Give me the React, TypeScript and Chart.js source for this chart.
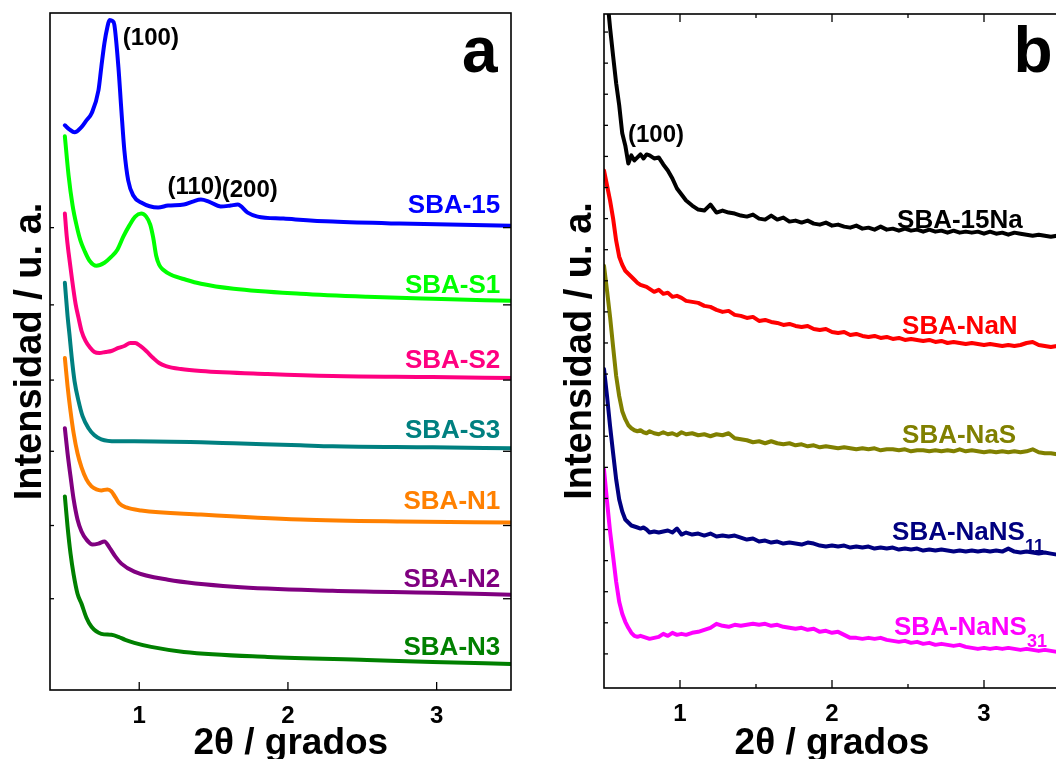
import { useEffect, useRef } from "react";
import { Chart, registerables } from "chart.js";

Chart.register(...registerables);

const FONT = "'Liberation Sans', Arial, Helvetica, sans-serif";

// ---------- Panel a: smoothed patterns, [2θ, intensity] ----------
type Pair = [number, number];

const SBA_15: Pair[] = [
  [0.5, 112.6], [0.53, 111.8], [0.565, 111.2], [0.61, 112.2], [0.645, 113.6], [0.68, 115],
  [0.726, 119.6], [0.745, 124.2], [0.766, 129], [0.786, 132.2], [0.8, 133.6], [0.82, 133.4],
  [0.833, 132.6], [0.86, 124.2], [0.88, 115.6], [0.9, 107.6], [0.926, 101.6], [0.96, 98.6],
  [1.013, 97.2], [1.127, 96.2], [1.194, 96.6], [1.3, 96.8], [1.36, 97.4], [1.415, 97.8],
  [1.468, 97.4], [1.548, 96.4], [1.615, 96.6], [1.662, 96.8], [1.729, 95.2], [1.796, 94.4],
  [1.97, 94], [2.3, 93.4], [2.75, 93], [3.5, 92.6],
];

const SBA_S1: Pair[] = [
  [0.5, 110.4], [0.525, 102.6], [0.552, 96.6], [0.579, 92.6], [0.605, 89.6], [0.632, 87.6],
  [0.666, 85.6], [0.712, 84.6], [0.766, 85.2], [0.813, 86.4], [0.853, 87.8], [0.893, 90.4],
  [0.933, 92.6], [0.973, 94.4], [1.013, 95], [1.047, 94.4], [1.074, 92.8], [1.094, 90.2],
  [1.114, 86.6], [1.134, 84.8], [1.161, 83.8], [1.214, 82.8], [1.314, 81.8], [1.415, 81],
  [1.635, 80], [2.084, 79], [2.532, 78.4], [2.973, 78], [3.5, 77.6],
];

const SBA_S2: Pair[] = [
  [0.5, 95], [0.512, 90.6], [0.525, 87.2], [0.545, 82.6], [0.572, 77], [0.592, 74.2],
  [0.612, 71.6], [0.639, 69.6], [0.666, 68.4], [0.699, 67.4], [0.732, 67.2], [0.773, 67.4],
  [0.813, 67.6], [0.86, 68.2], [0.9, 68.6], [0.94, 69.2], [0.973, 69.2], [1.007, 68.6],
  [1.047, 67.6], [1.094, 66.2], [1.134, 65.2], [1.18, 64.6], [1.28, 64], [1.415, 63.6],
  [1.863, 63], [2.3, 62.6], [2.973, 62.4], [3.5, 62.2],
];

const SBA_S3: Pair[] = [
  [0.5, 81.2], [0.518, 74.6], [0.532, 70.6], [0.545, 66.6], [0.565, 61.6], [0.592, 57.6],
  [0.619, 54.6], [0.659, 52.2], [0.699, 50.8], [0.745, 50], [0.846, 49.6], [0.967, 49.6],
  [1.415, 49.4], [1.635, 49.2], [2.084, 48.8], [2.3, 48.6], [2.973, 48.4], [3.5, 48.2],
];

const SBA_N1: Pair[] = [
  [0.5, 66.2], [0.518, 60.6], [0.538, 55.6], [0.559, 51.2], [0.585, 47.2], [0.612, 44.4],
  [0.645, 42], [0.679, 40.6], [0.712, 40], [0.745, 39.8], [0.786, 40], [0.813, 39.6],
  [0.84, 38.4], [0.866, 37.2], [0.913, 36.4], [1.013, 35.8], [1.415, 35], [2.084, 34],
  [2.753, 33.6], [3.5, 33.4],
];

const SBA_N2: Pair[] = [
  [0.5, 52.2], [0.518, 47.2], [0.538, 42.6], [0.559, 38], [0.585, 34], [0.612, 31.6],
  [0.645, 30], [0.686, 29], [0.726, 29.2], [0.766, 29.6], [0.8, 28.4], [0.84, 26.6],
  [0.88, 25.2], [0.967, 23.6], [1.194, 22], [1.635, 20.6], [2.3, 19.8], [2.973, 19.4],
  [3.5, 19],
];

const SBA_N3: Pair[] = [
  [0.5, 38.6], [0.518, 32.6], [0.538, 27.2], [0.559, 23], [0.585, 19.2], [0.612, 17.2],
  [0.645, 14.4], [0.679, 12.6], [0.745, 11.2], [0.813, 11], [0.86, 10.6], [0.906, 10],
  [0.967, 9.4], [1.08, 8.6], [1.3, 7.6], [1.863, 6.6], [2.532, 6], [2.973, 5.6], [3.5, 5.2],
];

// ---------- Panel b: raw scans on a common 2θ grid ----------
const TWO_THETA_B = [
  0.5, 0.52, 0.54, 0.56, 0.58, 0.6, 0.62, 0.64, 0.66, 0.68,
  0.7, 0.72, 0.74, 0.76, 0.78, 0.8,
  0.83, 0.86, 0.89, 0.92, 0.95, 0.98, 1.01,
  1.04, 1.08, 1.12, 1.16, 1.2, 1.24, 1.28, 1.32, 1.36, 1.4,
  1.44, 1.48, 1.52, 1.56, 1.6, 1.64, 1.68, 1.72, 1.76, 1.8,
  1.84, 1.88, 1.92, 1.96, 2.0, 2.04, 2.08, 2.12, 2.16, 2.2,
  2.24, 2.28, 2.32, 2.36, 2.4, 2.44, 2.48, 2.52, 2.56, 2.6,
  2.64, 2.68, 2.72, 2.76, 2.8, 2.84, 2.88, 2.92, 2.96, 3.0,
  3.04, 3.08, 3.12, 3.16, 3.2, 3.24, 3.28, 3.32, 3.36, 3.4,
  3.44, 3.48, 3.5,
];

const SBA_15NA = [
  146, 138, 131.6, 126, 120.6, 116.2, 110.6, 108.2, 104.6, 106.2,
  105.2, 105.8, 106.4, 105.6, 106.4, 106.2,
  105.6, 105.8, 104.4, 103.2, 101.6, 99.6, 98.4,
  97.2, 96.2, 95.4, 95.2, 96.4, 94.8, 95.2, 94.8, 94.6, 94.2,
  94, 94.4, 93.6, 93.4, 94.2, 93.4, 93.8, 93, 93.2, 92.8,
  93.2, 92.6, 92.4, 92.8, 92.2, 92.4, 92, 91.8, 92.2, 91.6,
  91.8, 91.4, 92, 91.4, 91.6, 91.2, 91.6, 91.2, 91.4, 91,
  91.4, 91, 91.2, 90.8, 91.2, 90.8, 91, 90.8, 91, 90.6,
  91, 90.6, 90.8, 90.4, 90.8, 90.6, 90.4, 90.2, 90.4, 90.2,
  90, 90.2, 89.8,
];

const SBA_NAN = [
  103.2, 100.2, 97.2, 93.6, 89.2, 86, 84.4, 83.2, 82.6, 82,
  81.4, 80.8, 80.4, 80.2, 80, 79.6,
  79, 79.4, 78.6, 78.8, 78, 78.2, 77.8,
  77.2, 77, 76.8, 76.2, 76, 75.4, 75, 75.2, 74.4, 74.2,
  73.8, 74, 73.2, 73.4, 73, 72.8, 72.4, 72.6, 72.2, 72,
  72.2, 71.6, 71.4, 71.6, 71, 70.8, 71, 70.4, 70.6, 70.2,
  70, 70.2, 69.8, 70, 69.6, 69.8, 69.4, 69.6, 69.4, 69.2,
  69.4, 69, 69.2, 68.8, 69, 68.8, 68.6, 68.8, 68.6, 68.4,
  68.6, 68.4, 68.2, 68.4, 68.2, 68.4, 68.8, 69, 68.4, 68.2,
  68, 68.2, 68,
];

const SBA_NAS = [
  84.2, 79.2, 74, 68, 62.2, 58.2, 55.2, 53.6, 52.4, 51.8,
  51.4, 51.2, 51.4, 51, 50.8, 51.2,
  50.8, 50.6, 51, 50.6, 50.8, 50.4, 51,
  50.6, 50.8, 50.4, 50.6, 50.2, 50.6, 50.4, 50.8, 49.8, 49.6,
  49.4, 49, 49.2, 48.8, 49.2, 48.8, 48.6, 48.8, 48.4, 48.6,
  48.2, 48.4, 48, 48.2, 48, 47.8, 48, 47.8, 47.6, 47.8,
  47.6, 47.8, 47.4, 47.6, 47.6, 47.4, 47.6, 47.2, 47.4, 47.4,
  47.2, 47.4, 47.2, 47.4, 47.2, 47.6, 47.2, 47.4, 47.2, 47,
  47.2, 47, 47.2, 47, 47.2, 47, 47.2, 47.6, 47, 46.8,
  46.8, 46.6, 46.6,
];

const SBA_NANS11 = [
  63.6, 58.2, 52.2, 46.8, 41.6, 37.6, 35.2, 33.6, 33, 32.4,
  32.2, 32, 31.8, 32, 31.6, 31,
  31.2, 31, 31.2, 31.4, 31, 31.8, 30.6,
  31, 30.6, 30.8, 30.4, 30.8, 30.2, 30.4, 30.2, 30.4, 30,
  29.6, 29.8, 29.2, 29.4, 29, 29.2, 28.8, 29, 28.8, 28.6,
  29, 28.8, 28.4, 28.2, 28.4, 28.2, 28.4, 28, 28.2, 28,
  28.2, 27.8, 28, 27.8, 28, 27.6, 27.8, 27.6, 27.8, 27.4,
  27.6, 27.4, 27.6, 27.4, 27.2, 27.4, 27.2, 27.4, 27.2, 27.4,
  27.2, 27.4, 27.2, 27.8, 27.2, 27, 27.2, 27, 26.8, 27,
  26.8, 26.6, 26.6,
];

const SBA_NANS31 = [
  43.6, 37.2, 31.2, 26.2, 21.2, 17.2, 14.8, 13.2, 12, 11,
  10.4, 10.2, 10.4, 10.2, 10, 9.8,
  10, 10.2, 10.8, 10.4, 11, 10.6, 10.8,
  10.6, 11, 11.2, 11.6, 12, 12.8, 12.4, 12.2, 12.6, 12.4,
  12.6, 12.8, 12.6, 12.8, 12.4, 12.6, 12.2, 12, 11.8, 12,
  11.6, 11.8, 11.2, 11.4, 11, 11.2, 10.6, 10, 10, 9.8,
  10, 9.8, 10, 9.6, 9.4, 9.2, 9.4, 9, 9.2, 8.8,
  9, 8.6, 8.8, 8.6, 8.4, 8.6, 8.2, 8, 7.8, 8,
  7.8, 8, 7.8, 8, 7.8, 7.6, 7.8, 7.6, 7.4, 7.6,
  7.4, 7.2, 7.2,
];

// ---------- Axis ticks ----------
const X_TICKS = [1, 2, 3];
const X_MINOR_B = [1.5, 2.5];
const Y_TICKS_A = [18.2, 32.8, 47.6, 61.8, 76.8, 92.2];
const Y_TICKS_B = [
  6.8, 13, 19.2, 25.4, 31.6, 37.8, 44, 50.2, 56.4, 62.6, 68.8,
  75, 81.2, 87.4, 93.6, 99.8, 106, 112.2, 118.4, 124.6, 130.8,
];

interface Note {
  text: string;
  sub?: string;
  x: number;
  y: number;
  color: string;
  size: number;
  align: CanvasTextAlign;
}

const NOTES_A: Note[] = [
  { text: "(100)", x: 0.89, y: 128.6, color: "#000", size: 24, align: "left" },
  { text: "(110)", x: 1.19, y: 99, color: "#000", size: 24, align: "left" },
  { text: "(200)", x: 1.555, y: 98.4, color: "#000", size: 24, align: "left" },
  { text: "a", x: 3.17, y: 123.2, color: "#000", size: 64, align: "left" },
  { text: "SBA-15", x: 3.428, y: 95.1, color: "#0000FF", size: 26, align: "right" },
  { text: "SBA-S1", x: 3.428, y: 79.2, color: "#00FF00", size: 26, align: "right" },
  { text: "SBA-S2", x: 3.428, y: 64.2, color: "#FF0080", size: 26, align: "right" },
  { text: "SBA-S3", x: 3.428, y: 50.2, color: "#008080", size: 26, align: "right" },
  { text: "SBA-N1", x: 3.428, y: 36, color: "#FF8000", size: 26, align: "right" },
  { text: "SBA-N2", x: 3.428, y: 20.6, color: "#800080", size: 26, align: "right" },
  { text: "SBA-N3", x: 3.428, y: 7, color: "#008000", size: 26, align: "right" },
];

const NOTES_B: Note[] = [
  { text: "(100)", x: 0.658, y: 108.8, color: "#000", size: 24, align: "left" },
  { text: "b", x: 3.194, y: 122.8, color: "#000", size: 64, align: "left" },
  { text: "SBA-15Na", x: 2.428, y: 91.8, color: "#000", size: 26, align: "left" },
  { text: "SBA-NaN", x: 2.461, y: 70.6, color: "#FF0000", size: 26, align: "left" },
  { text: "SBA-NaS", x: 2.461, y: 48.8, color: "#808000", size: 26, align: "left" },
  { text: "SBA-NaNS", sub: "11", x: 2.395, y: 29.6, color: "#000080", size: 26, align: "left" },
  { text: "SBA-NaNS", sub: "31", x: 2.408, y: 10.6, color: "#FF00FF", size: 26, align: "left" },
];

const pairsToPoints = (pairs: Pair[]) => pairs.map(([x, y]) => ({ x, y }));
const zip = (xs: number[], ys: number[]) => xs.map((x, i) => ({ x, y: ys[i] }));

// Box frame with inward-pointing tick marks
const framePlugin = {
  id: "frame",
  afterDatasetsDraw(chart: any, _args: any, opts: any) {
    const { ctx, chartArea } = chart;
    const { left, right, top, bottom } = chartArea;
    const xs = chart.scales.x;
    const ys = chart.scales.y;
    const seg = (x1: number, y1: number, x2: number, y2: number) => {
      ctx.beginPath();
      ctx.moveTo(x1, y1);
      ctx.lineTo(x2, y2);
      ctx.stroke();
    };
    ctx.save();
    ctx.strokeStyle = "#000";
    ctx.lineWidth = 1.3;
    for (const v of opts.xMajor || []) {
      const p = xs.getPixelForValue(v);
      seg(p, bottom, p, bottom - 8);
      if (opts.topTicks) seg(p, top, p, top + 8);
    }
    for (const v of opts.xMinor || []) {
      const p = xs.getPixelForValue(v);
      seg(p, bottom, p, bottom - 4);
      if (opts.topTicks) seg(p, top, p, top + 4);
    }
    for (const v of opts.yLeft || []) {
      const p = ys.getPixelForValue(v);
      seg(left, p, left + 4, p);
    }
    for (const v of opts.yRight || []) {
      const p = ys.getPixelForValue(v);
      seg(right, p, right - 8, p);
    }
    ctx.lineWidth = 1.6;
    ctx.strokeRect(left, top, right - left, bottom - top);
    ctx.restore();
  },
};

// Sample names, reflection indices and panel letters
const notesPlugin = {
  id: "notes",
  afterDatasetsDraw(chart: any, _args: any, opts: any) {
    const { ctx } = chart;
    const xs = chart.scales.x;
    const ys = chart.scales.y;
    ctx.save();
    for (const n of (opts.items || []) as Note[]) {
      const px = xs.getPixelForValue(n.x);
      const py = ys.getPixelForValue(n.y);
      ctx.font = `bold ${n.size}px ${FONT}`;
      ctx.fillStyle = n.color;
      ctx.textAlign = n.align;
      ctx.textBaseline = "alphabetic";
      ctx.fillText(n.text, px, py);
      if (n.sub) {
        const w = ctx.measureText(n.text).width;
        const sx = n.align === "left" ? px + w : px;
        ctx.font = `bold ${Math.round(n.size * 0.7)}px ${FONT}`;
        ctx.textAlign = "left";
        ctx.fillText(n.sub, sx, py + 12);
      }
    }
    ctx.restore();
  },
};

interface Series {
  label: string;
  color: string;
  points: { x: number; y: number }[];
  smooth: boolean;
}

interface PanelSpec {
  left: number;
  width: number;
  height: number;
  padTop: number;
  padRight: number;
  xMin: number;
  xMax: number;
  yMax: number;
  xTitle: string;
  yTitlePad: { top: number; bottom: number };
  xTitlePad: { top: number; bottom: number };
  series: Series[];
  notes: Note[];
  frame: any;
}

const PANEL_A: PanelSpec = {
  left: 0,
  width: 545,
  height: 766,
  padTop: 13,
  padRight: 34,
  xMin: 0.4,
  xMax: 3.5,
  yMax: 135,
  xTitle: "  2θ / grados",
  yTitlePad: { top: 12, bottom: 0 },
  xTitlePad: { top: -17, bottom: 4 },
  series: [
    { label: "SBA-N3", color: "#008000", points: pairsToPoints(SBA_N3), smooth: true },
    { label: "SBA-N2", color: "#800080", points: pairsToPoints(SBA_N2), smooth: true },
    { label: "SBA-N1", color: "#FF8000", points: pairsToPoints(SBA_N1), smooth: true },
    { label: "SBA-S3", color: "#008080", points: pairsToPoints(SBA_S3), smooth: true },
    { label: "SBA-S2", color: "#FF0080", points: pairsToPoints(SBA_S2), smooth: true },
    { label: "SBA-S1", color: "#00FF00", points: pairsToPoints(SBA_S1), smooth: true },
    { label: "SBA-15", color: "#0000FF", points: pairsToPoints(SBA_15), smooth: true },
  ],
  notes: NOTES_A,
  frame: { xMajor: X_TICKS, xMinor: [], yLeft: Y_TICKS_A, yRight: Y_TICKS_A, topTicks: false },
};

const PANEL_B: PanelSpec = {
  left: 550,
  width: 530,
  height: 766,
  padTop: 14,
  padRight: 20,
  xMin: 0.5,
  xMax: 3.5,
  yMax: 134.4,
  xTitle: "2θ / grados",
  yTitlePad: { top: 11.8, bottom: 4.2 },
  xTitlePad: { top: -15, bottom: 4 },
  series: [
    { label: "SBA-NaNS31", color: "#FF00FF", points: zip(TWO_THETA_B, SBA_NANS31), smooth: false },
    { label: "SBA-NaNS11", color: "#000080", points: zip(TWO_THETA_B, SBA_NANS11), smooth: false },
    { label: "SBA-NaS", color: "#808000", points: zip(TWO_THETA_B, SBA_NAS), smooth: false },
    { label: "SBA-NaN", color: "#FF0000", points: zip(TWO_THETA_B, SBA_NAN), smooth: false },
    { label: "SBA-15Na", color: "#000000", points: zip(TWO_THETA_B, SBA_15NA), smooth: false },
  ],
  notes: NOTES_B,
  frame: { xMajor: X_TICKS, xMinor: X_MINOR_B, yLeft: Y_TICKS_B, yRight: [], topTicks: true },
};

function Panel({ spec }: { spec: PanelSpec }) {
  const ref = useRef<HTMLCanvasElement | null>(null);

  useEffect(() => {
    const canvas = ref.current;
    if (!canvas) return;
    const chart = new Chart(canvas, {
      type: "line",
      data: {
        datasets: spec.series.map((s) => ({
          label: s.label,
          data: s.points,
          borderColor: s.color,
          backgroundColor: s.color,
          borderWidth: 4,
          pointRadius: 0,
          fill: false,
          tension: s.smooth ? 0.4 : 0,
          cubicInterpolationMode: s.smooth ? "monotone" : "default",
          borderJoinStyle: "round",
          borderCapStyle: "round",
        })),
      },
      options: {
        responsive: false,
        animation: false,
        events: [],
        layout: { padding: { left: 0, top: spec.padTop, right: spec.padRight, bottom: 0 } },
        plugins: {
          legend: { display: false },
          tooltip: { enabled: false },
          frame: spec.frame,
          notes: { items: spec.notes },
        } as any,
        scales: {
          x: {
            type: "linear",
            min: spec.xMin,
            max: spec.xMax,
            afterBuildTicks: (axis: any) => {
              axis.ticks = X_TICKS.map((v) => ({ value: v }));
            },
            ticks: {
              color: "#000",
              padding: 14,
              font: { family: FONT, size: 24, weight: "bold", lineHeight: 1 },
              callback: (v: any) => String(v),
            },
            grid: { display: false, drawTicks: false },
            border: { display: false },
            title: {
              display: true,
              text: spec.xTitle,
              color: "#000",
              padding: spec.xTitlePad,
              font: { family: FONT, size: 37, weight: "bold", lineHeight: 1 },
            },
          },
          y: {
            type: "linear",
            min: 0,
            max: spec.yMax,
            ticks: { display: false },
            grid: { display: false, drawTicks: false },
            border: { display: false },
            title: {
              display: true,
              text: "Intensidad / u. a.",
              color: "#000",
              padding: spec.yTitlePad,
              font: { family: FONT, size: 38, weight: "bold", lineHeight: 1 },
            },
          },
        },
      } as any,
      plugins: [framePlugin, notesPlugin],
    });
    return () => chart.destroy();
  }, [spec]);

  return (
    <canvas
      ref={ref}
      width={spec.width}
      height={spec.height}
      style={{ position: "absolute", left: spec.left, top: 0, width: spec.width, height: spec.height }}
    />
  );
}

export default function App() {
  return (
    <div
      style={{
        position: "fixed",
        left: 0,
        top: 0,
        width: 1056,
        height: 759,
        overflow: "hidden",
        background: "#fff",
      }}
    >
      <Panel spec={PANEL_A} />
      <Panel spec={PANEL_B} />
    </div>
  );
}
